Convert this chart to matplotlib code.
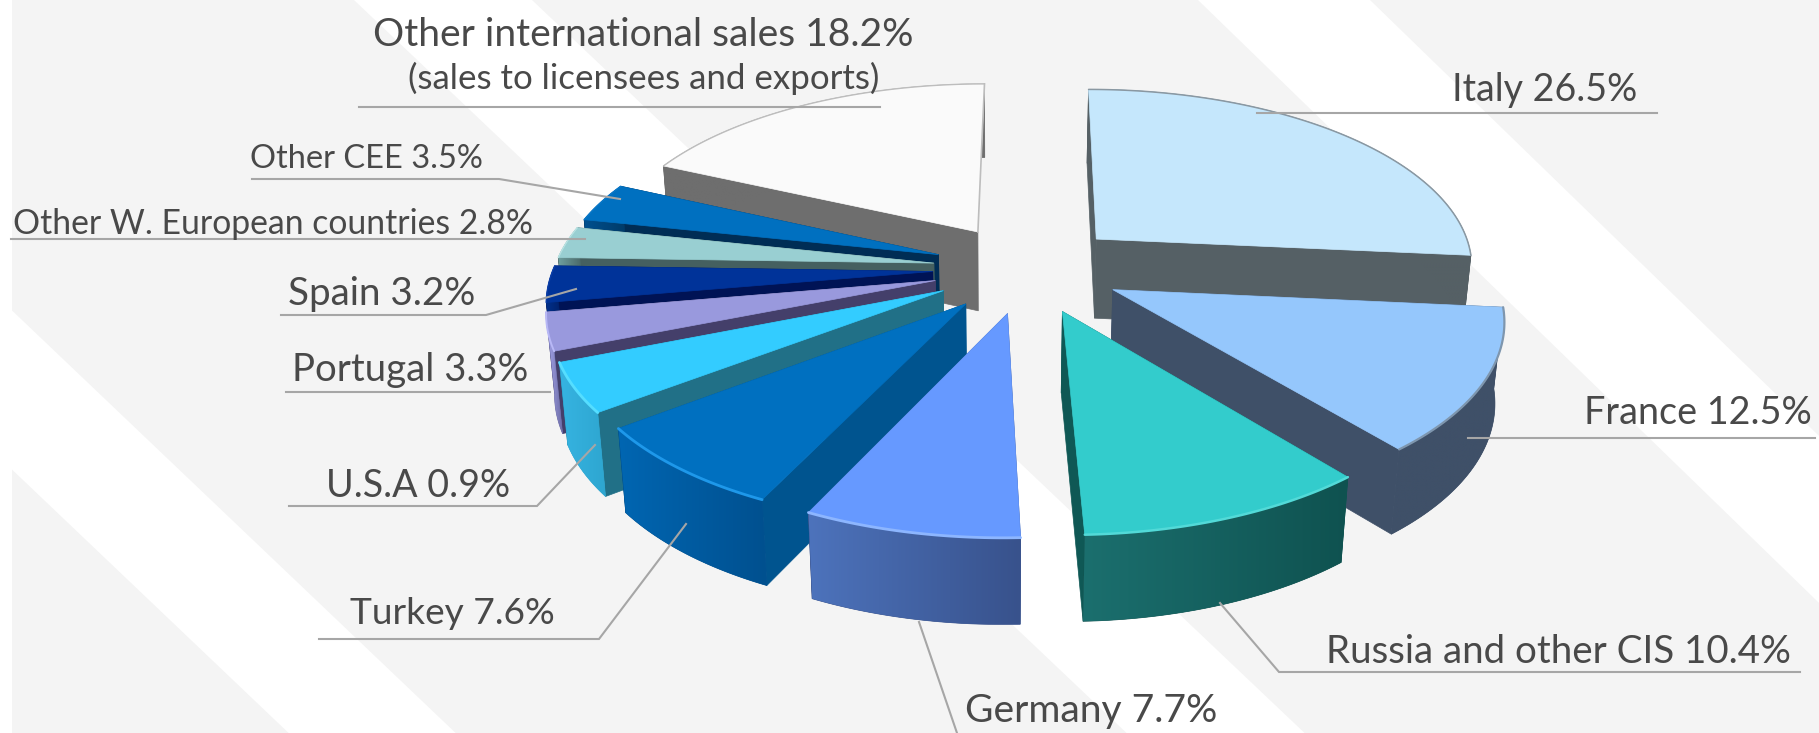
import numpy as np
import matplotlib
matplotlib.use("Agg")
import matplotlib.pyplot as plt
from matplotlib.colors import to_rgb
from matplotlib.patches import Polygon

# slices, clockwise from 12 o'clock (U.S.A is drawn bigger than its printed 0.9%)
shares = [26.5, 12.5, 10.4, 7.7, 7.6, 4.3, 3.3, 3.2, 2.8, 3.5, 18.2]
explode = 0.25

top_colors = ["#C5E7FC", "#95C7FC", "#33CCCC", "#6699FF", "#0070C0", "#33CCFF",
              "#9999DD", "#003399", "#99CFD2", "#0070C0", "#FAFAFA"]
cut_colors = ["#556065", "#3F5068", "#0F5855", "#3A548E", "#00548F", "#217087",
              "#443F6A", "#001355", "#456060", "#002D55", "#6E6E6E"]
rim_colors = ["#8A98A2", "#7E96AE", "#52DAD8", "#8DB6FF", "#1E98EA", "#55DEFF",
              "#B8B8F6", "#0B3EA8", "#B8E2E2", "#0A78C8", "#BDBDBD"]
rim_widths = [1.1, 1.6, 1.8, 2.0, 2.0, 2.0, 1.4, 1.0, 1.0, 1.0, 1.0]
side_left = ["#556065", "#3F5068", "#1B6F6E", "#4D73BC", "#0066B2", "#36B4E2",
             "#A8A8EE", "#00308C", "#6FA0A0", "#00508F", "#6E6E6E"]
side_right = ["#556065", "#3F5068", "#0F5250", "#38528C", "#00508F", "#2EA6D0",
              "#6B6BA5", "#001F66", "#456060", "#003A66", "#6E6E6E"]

# text, left x, baseline y, font size
labels = [
    ("Other international sales 18.2%", 373, 46, 28.1),
    ("(sales to licensees and exports)", 408, 89, 25.1),
    ("Other CEE 3.5%", 250, 168, 23.5),
    ("Other W. European countries 2.8%", 13, 234, 24.3),
    ("Spain 3.2%", 288, 305, 27.8),
    ("Portugal 3.3%", 292, 381, 27.6),
    ("U.S.A 0.9%", 326, 497, 27.1),
    ("Turkey 7.6%", 350, 624, 26.7),
    ("Italy 26.5%", 1452, 101, 27.1),
    ("France 12.5%", 1584, 424, 27.2),
    ("Russia and other CIS 10.4%", 1326, 663, 27.7),
    ("Germany 7.7%", 965, 722, 28.1),
]
leaders = [
    [(359, 107), (880, 107)],
    [(620, 199), (499, 179), (252, 179)],
    [(585, 239), (11, 239)],
    [(576, 289), (486, 315), (281, 315)],
    [(550, 392), (286, 392)],
    [(595, 445), (537, 506), (289, 506)],
    [(686, 524), (599, 639), (319, 639)],
    [(1257, 113), (1657, 113)],
    [(1468, 438), (1815, 438)],
    [(1220, 603), (1279, 672), (1800, 672)],
    [(919, 622), (957, 733)],
]

# white bands of the backdrop: x where each edge meets the top, and its slant
bands = [(-481, -314, 1.05), (354, 532, 1.054), (1198, 1370, 1.03)]

# camera worked out from the slice corners
cx, cy, f, vx, vy, k = 1027.6, 268.4, 379.4, 1032.6, -997.2, 0.141


def project(x, y):
    w = 1 + k * y
    return (cx + f * x + vx * k * y) / w, (cy + vy * k * y) / w


def drop(sx, y):
    # foot of the wall under a point of the top face
    w = 1 + k * y
    dz = 80 - 38 * (w - 1)
    return sx + (1000 - sx) * 0.02 * dz / 87, dz


fig = plt.figure(figsize=(18.19, 7.33), dpi=100)
ax = fig.add_axes([0, 0, 1, 1])
ax.axis("off")

# backdrop
ax.add_patch(Polygon([(11.5, 0), (1819, 0), (1819, 733), (11.5, 733)], fc="#F4F4F4", ec="none", zorder=0))
for c0, c1, s in bands:
    quad = [(c0, 0), (c1, 0), (c1 + s * 733, 733), (c0 + s * 733, 733)]
    ax.add_patch(Polygon(quad, fc="white", ec="none", zorder=1))
ax.add_patch(Polygon([(0, 0), (11.5, 0), (11.5, 733), (0, 733)], fc="white", ec="none", zorder=1))

# pie
edges = np.radians(np.r_[0, np.cumsum(shares)] * 3.6)
mids = (edges[:-1] + edges[1:]) / 2
order = np.argsort(-np.cos(mids))
last = len(shares) - 1

z = 2
for i in order:
    ox, oy = explode * np.sin(mids[i]), explode * np.cos(mids[i])
    th = np.linspace(edges[i], edges[i + 1], 120)
    wx, wy = ox + np.sin(th), oy + np.cos(th)
    sx, sy = project(wx, wy)
    tx, ty = project(ox, oy)
    fx, dz = drop(sx, wy)
    fy = sy + dz
    t_fx, t_dz = drop(tx, oy)

    # the two cut faces (the white slice's right one is edge-on)
    ax.add_patch(Polygon([(tx, ty), (sx[0], sy[0]), (fx[0], fy[0]), (t_fx, ty + t_dz)],
                         fc=cut_colors[i], ec=cut_colors[i], lw=0.5, zorder=z))
    if i != last:
        ax.add_patch(Polygon([(tx, ty), (sx[-1], sy[-1]), (fx[-1], fy[-1]), (t_fx, ty + t_dz)],
                             fc=cut_colors[i], ec=cut_colors[i], lw=0.5, zorder=z))
    z += 1

    # outer wall, shaded left to right
    wall = Polygon(np.c_[np.r_[sx, fx[::-1]], np.r_[sy, fy[::-1]]], fc=side_right[i], ec=side_right[i], lw=0.5, zorder=z)
    ax.add_patch(wall)
    ramp = np.linspace(np.array(to_rgb(side_left[i])), np.array(to_rgb(side_right[i])), 256)[None, :, :]
    x0, x1 = min(sx.min(), fx.min()), max(sx.max(), fx.max())
    y0, y1 = sy.min(), fy.max()
    im = ax.imshow(ramp, extent=(x0, x1, y1, y0), aspect="auto", interpolation="bilinear", zorder=z + 0.5)
    im.set_clip_path(wall)
    z += 1

    # top face and its rim
    ax.add_patch(Polygon(np.c_[np.r_[tx, sx], np.r_[ty, sy]], fc=top_colors[i], ec=top_colors[i], lw=0.5, zorder=z))
    z += 1
    ax.plot(sx, sy, color=rim_colors[i], lw=rim_widths[i], solid_capstyle="round", zorder=z)
    z += 1

# grey edge on the white slice, against the white band
ox, oy = explode * np.sin(mids[last]), explode * np.cos(mids[last])
ex, ey = project(ox + np.sin(edges[-1]), oy + np.cos(edges[-1]))
tx, ty = project(ox, oy)
ax.plot([tx, ex], [ty, ey], color=rim_colors[last], lw=1.2, zorder=z)
z += 1

# leaders and labels
for pts in leaders:
    pts = np.array(pts)
    ax.plot(pts[:, 0], pts[:, 1], color="#A6A6A6", lw=1.5, solid_joinstyle="miter", zorder=z)
for text, x, y, size in labels:
    ax.text(x, y, text, fontsize=size, family="Lato", color="#494949", ha="left", va="baseline", zorder=z + 1)

ax.set_xlim(0, 1819)
ax.set_ylim(733, 0)
fig.savefig("out.png", dpi=100)
